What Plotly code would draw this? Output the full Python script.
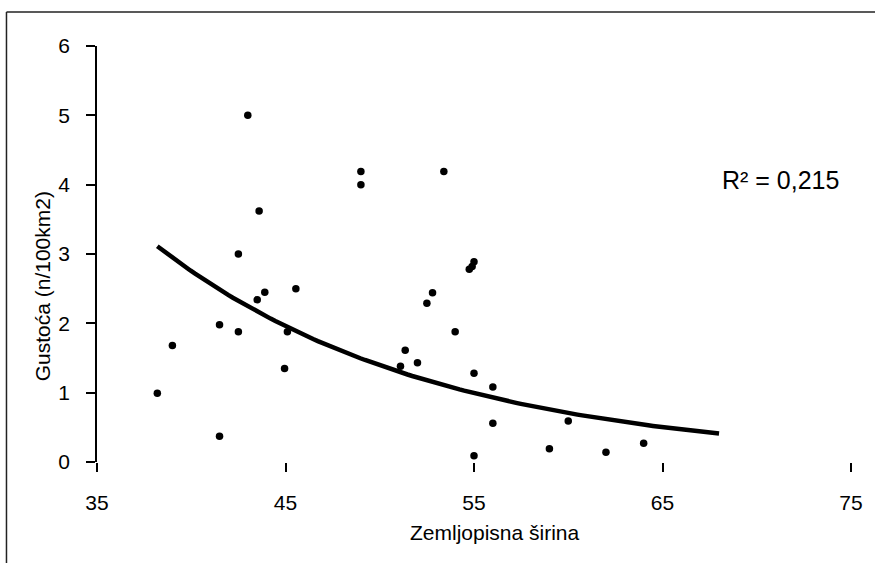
import numpy as np
import plotly.graph_objects as go

# Latitude (degrees) and density (n/100 km2) of the sampled sites
latitude = [38.2, 39.0, 41.5, 41.5, 42.5, 42.5, 43.0, 43.6, 43.5, 43.9,
            45.55, 45.1, 44.95, 49.0, 49.0, 53.4, 55.0, 54.9, 54.75, 52.8,
            52.5, 54.0, 51.35, 52.0, 51.1, 55.0, 56.0, 56.0, 55.0, 60.0,
            59.0, 62.0, 64.0]
density = [0.99, 1.68, 1.98, 0.37, 3.00, 1.88, 5.00, 3.62, 2.34, 2.45,
           2.50, 1.88, 1.35, 4.19, 4.00, 4.19, 2.89, 2.82, 2.78, 2.44,
           2.29, 1.88, 1.61, 1.43, 1.38, 1.28, 1.08, 0.56, 0.09, 0.59,
           0.19, 0.14, 0.27]

# Exponential trendline y = a * exp(b * x), with its plotted x extent
trend_a = 41.8
trend_b = -0.068
trend_x_range = [38.2, 68.0]
r_squared_text = "R² = 0,215"

x_ticks = [35, 45, 55, 65, 75]
y_ticks = [0, 1, 2, 3, 4, 5, 6]

W, H = 875, 563
L, R, T, B = 97, 855, 46, 462  # plot area in pixels

FONT = "Liberation Sans, Arial, sans-serif"

tx = np.linspace(trend_x_range[0], trend_x_range[1], 120)
ty = trend_a * np.exp(trend_b * tx)

fig = go.Figure()
fig.add_trace(go.Scatter(
    x=tx, y=ty, mode="lines",
    line=dict(color="black", width=4.5),
    hoverinfo="skip", showlegend=False,
))
fig.add_trace(go.Scatter(
    x=latitude, y=density, mode="markers",
    marker=dict(color="black", size=7.5, symbol="circle"),
    showlegend=False,
))


def px_x(p):
    return (p - L) / (R - L)


def px_y(p):
    return (B - p) / (B - T)


# Outer chart frame (top and left edges)
frame = dict(color="#222222", width=1.5)
fig.add_shape(type="line", xref="paper", yref="paper",
              x0=px_x(6), x1=px_x(W + 5), y0=px_y(12), y1=px_y(12), line=frame)
fig.add_shape(type="line", xref="paper", yref="paper",
              x0=px_x(6), x1=px_x(6), y0=px_y(12), y1=px_y(H + 5), line=frame)

fig.add_annotation(text="Zemljopisna širina", xref="paper", yref="paper",
                   x=px_x(497), y=px_y(532), showarrow=False,
                   font=dict(family=FONT, size=21, color="black"),
                   xanchor="center", yanchor="middle")
fig.add_annotation(text="Gustoća (n/100km2)", xref="paper", yref="paper",
                   x=px_x(42), y=px_y(286), showarrow=False, textangle=-90,
                   font=dict(family=FONT, size=21, color="black"),
                   xanchor="center", yanchor="middle")
fig.add_annotation(text=r_squared_text, xref="paper", yref="paper",
                   x=px_x(784), y=px_y(180), showarrow=False,
                   font=dict(family=FONT, size=25, color="black"),
                   xanchor="center", yanchor="middle")

fig.update_layout(
    width=W, height=H,
    margin=dict(l=L, r=W - R, t=T, b=H - B, pad=0),
    paper_bgcolor="white", plot_bgcolor="white",
    font=dict(family=FONT, size=21, color="black"),
    xaxis=dict(
        range=[35, 75], tickvals=x_ticks, ticktext=[str(v) for v in x_ticks],
        showline=False, showgrid=False, zeroline=False,
        ticks="outside", ticklen=9, tickwidth=1.5, tickcolor="black",
        ticklabelstandoff=13, fixedrange=True,
    ),
    yaxis=dict(
        range=[0, 6], tickvals=y_ticks, ticktext=[str(v) for v in y_ticks],
        showline=True, linecolor="black", linewidth=1.5,
        showgrid=False, zeroline=False,
        ticks="outside", ticklen=9, tickwidth=1.5, tickcolor="black",
        ticklabelstandoff=12, fixedrange=True,
    ),
)

fig.write_html("out.html")
